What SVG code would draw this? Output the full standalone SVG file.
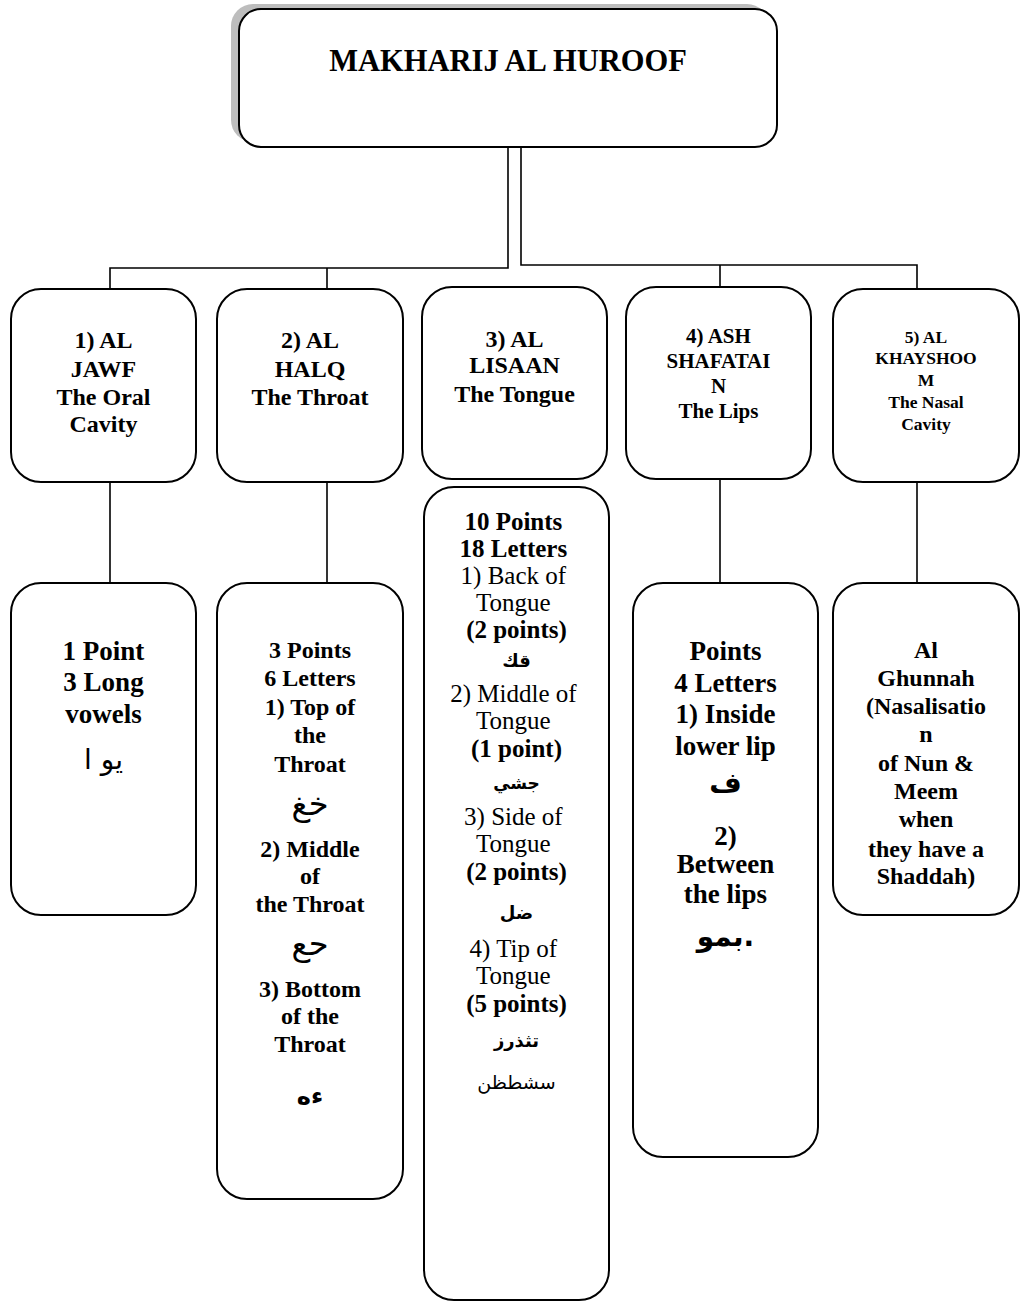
<svg xmlns="http://www.w3.org/2000/svg" width="1022" height="1301" viewBox="0 0 1022 1301">
  <style>
    .box { fill: #ffffff; stroke: #000000; stroke-width: 2; }
    .shadow { fill: #bdbdbd; stroke: none; }
    .link { fill: none; stroke: #000000; stroke-width: 1.6; }
    text { font-family: "Liberation Serif", "Times New Roman", serif; fill: #000000; text-anchor: middle; }
    .b { font-weight: bold; }
    .ar { font-family: "DejaVu Sans", "Noto Sans", sans-serif; }
  </style>
  <rect x="0" y="0" width="1022" height="1301" fill="#ffffff"/>

  <!-- connectors -->
  <g id="connectors">
    <polyline class="link" points="508,147 508,268 110,268 110,289"/>
    <line class="link" x1="327" y1="268" x2="327" y2="289"/>
    <polyline class="link" points="521,147 521,265 917,265 917,289"/>
    <line class="link" x1="720" y1="265" x2="720" y2="287"/>
    <line class="link" x1="110" y1="482" x2="110" y2="583"/>
    <line class="link" x1="327" y1="482" x2="327" y2="583"/>
    <line class="link" x1="720" y1="479" x2="720" y2="583"/>
    <line class="link" x1="917" y1="482" x2="917" y2="583"/>
  </g>

  <!-- root -->
  <g id="root">
    <rect class="shadow" x="231" y="4" width="538" height="138" rx="22"/>
    <rect class="box" x="239" y="9" width="538" height="138" rx="22"/>
    <text class="b" x="508" y="71" font-size="30.5">MAKHARIJ AL HUROOF</text>
  </g>

  <!-- first level: the five main areas -->
  <g id="jawf">
    <rect class="box" x="11" y="289" width="185" height="193" rx="30"/>
    <text class="b" x="103.5" font-size="24"><tspan x="103.5" y="348">1) AL</tspan><tspan x="103.5" y="377">JAWF</tspan><tspan x="103.5" y="405">The Oral</tspan><tspan x="103.5" y="432">Cavity</tspan></text>
  </g>
  <g id="halq">
    <rect class="box" x="217" y="289" width="186" height="193" rx="30"/>
    <text class="b" x="310" font-size="24"><tspan x="310" y="348">2) AL</tspan><tspan x="310" y="377">HALQ</tspan><tspan x="310" y="405">The Throat</tspan></text>
  </g>
  <g id="lisaan">
    <rect class="box" x="422" y="287" width="185" height="192" rx="30"/>
    <text class="b" x="514.5" font-size="24"><tspan x="514.5" y="347">3) AL</tspan><tspan x="514.5" y="373">LISAAN</tspan><tspan x="514.5" y="402">The Tongue</tspan></text>
  </g>
  <g id="shafatain">
    <rect class="box" x="626" y="287" width="185" height="192" rx="30"/>
    <text class="b" x="718.5" font-size="21"><tspan x="718.5" y="343">4) ASH</tspan><tspan x="718.5" y="368">SHAFATAI</tspan><tspan x="718.5" y="393">N</tspan><tspan x="718.5" y="418">The Lips</tspan></text>
  </g>
  <g id="khayshoom">
    <rect class="box" x="833" y="289" width="186" height="193" rx="30"/>
    <text class="b" x="926" font-size="17.5"><tspan x="926" y="343">5) AL</tspan><tspan x="926" y="364">KHAYSHOO</tspan><tspan x="926" y="386">M</tspan><tspan x="926" y="408">The Nasal</tspan><tspan x="926" y="430">Cavity</tspan></text>
  </g>

  <!-- second level: points and letters -->
  <g id="jawf-points">
    <rect class="box" x="11" y="583" width="185" height="332" rx="30"/>
    <text class="b" x="103.5" font-size="27"><tspan x="103.5" y="660">1 Point</tspan><tspan x="103.5" y="691">3 Long</tspan><tspan x="103.5" y="723">vowels</tspan></text>
    <text class="ar" x="103.5" y="769" font-size="28">يو ا</text>
  </g>
  <g id="halq-points">
    <rect class="box" x="217" y="583" width="186" height="616" rx="30"/>
    <text class="b" x="310" font-size="24"><tspan x="310" y="658">3 Points</tspan><tspan x="310" y="686">6 Letters</tspan><tspan x="310" y="715">1) Top of</tspan><tspan x="310" y="743">the</tspan><tspan x="310" y="772">Throat</tspan></text>
    <text class="ar" x="310" y="815" font-size="32">خغ</text>
    <text class="b" x="310" font-size="24"><tspan x="310" y="857">2) Middle</tspan><tspan x="310" y="884">of</tspan><tspan x="310" y="912">the Throat</tspan></text>
    <text class="ar" x="310" y="955" font-size="32">حع</text>
    <text class="b" x="310" font-size="24"><tspan x="310" y="997">3) Bottom</tspan><tspan x="310" y="1024">of the</tspan><tspan x="310" y="1052">Throat</tspan></text>
    <text class="ar b" x="310" y="1104" font-size="24">ءه</text>
  </g>
  <g id="lisaan-points">
    <rect class="box" x="424" y="487" width="185" height="813" rx="30"/>
    <text x="516.5" font-size="25">
      <tspan class="b" x="516.5" y="530">10 Points</tspan>
      <tspan class="b" x="516.5" y="557">18 Letters</tspan>
      <tspan x="516.5" y="584">1) Back of</tspan>
      <tspan x="516.5" y="611">Tongue</tspan>
      <tspan class="b" x="516.5" y="638">(2 points)</tspan>
    </text>
    <text class="ar b" x="516.5" y="667" font-size="18">قك</text>
    <text x="516.5" font-size="25">
      <tspan x="516.5" y="702">2) Middle of</tspan>
      <tspan x="516.5" y="729">Tongue</tspan>
      <tspan class="b" x="516.5" y="757">(1 point)</tspan>
    </text>
    <text class="ar b" x="516.5" y="789" font-size="17">جشي</text>
    <text x="516.5" font-size="25">
      <tspan x="516.5" y="825">3) Side of</tspan>
      <tspan x="516.5" y="852">Tongue</tspan>
      <tspan class="b" x="516.5" y="880">(2 points)</tspan>
    </text>
    <text class="ar b" x="516.5" y="919" font-size="18">ضل</text>
    <text x="516.5" font-size="25">
      <tspan x="516.5" y="957">4) Tip of</tspan>
      <tspan x="516.5" y="984">Tongue</tspan>
      <tspan class="b" x="516.5" y="1012">(5 points)</tspan>
    </text>
    <text class="ar b" x="516.5" y="1047" font-size="18">تثذرز</text>
    <text class="ar" x="516.5" y="1089" font-size="19">سشطظن</text>
  </g>
  <g id="shafatain-points">
    <rect class="box" x="633" y="583" width="185" height="574" rx="30"/>
    <text class="b" x="725.5" font-size="27"><tspan x="725.5" y="660">Points</tspan><tspan x="725.5" y="692">4 Letters</tspan><tspan x="725.5" y="723">1) Inside</tspan><tspan x="725.5" y="755">lower lip</tspan></text>
    <text class="ar b" x="725.5" y="792" font-size="28">ف</text>
    <text class="b" x="725.5" font-size="27"><tspan x="725.5" y="845">2)</tspan><tspan x="725.5" y="873">Between</tspan><tspan x="725.5" y="903">the lips</tspan></text>
    <text class="ar b" x="725.5" y="946" font-size="28">بمو.</text>
  </g>
  <g id="ghunnah">
    <rect class="box" x="833" y="583" width="186" height="332" rx="30"/>
    <text class="b" x="926" font-size="24"><tspan x="926" y="658">Al</tspan><tspan x="926" y="686">Ghunnah</tspan><tspan x="926" y="714">(Nasalisatio</tspan><tspan x="926" y="742">n</tspan><tspan x="926" y="771">of Nun &amp;</tspan><tspan x="926" y="799">Meem</tspan><tspan x="926" y="827">when</tspan><tspan x="926" y="857">they have a</tspan><tspan x="926" y="884">Shaddah)</tspan></text>
  </g>
</svg>
